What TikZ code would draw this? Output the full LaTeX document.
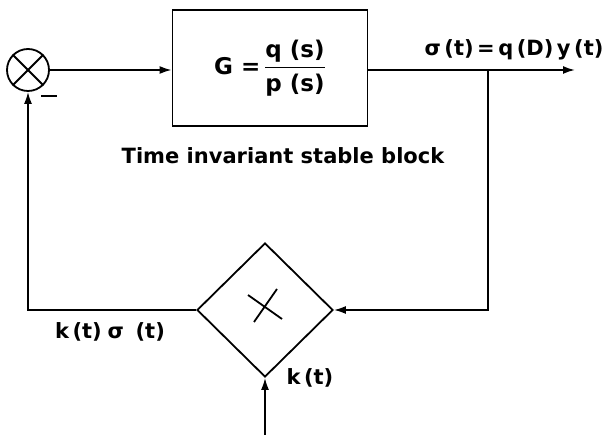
\documentclass[tikz,border=0pt]{standalone}
\usepackage{amsmath}
\usepackage{fontspec}
\setmainfont{DejaVu Sans}
\usetikzlibrary{arrows.meta,shapes.geometric}
\begin{document}
\begin{tikzpicture}[x=1pt,y=-1pt,line width=1.8pt,
  arr/.style={-{Latex[length=12pt,width=8pt]}},
  lbl/.style={font=\fontsize{21}{25}\selectfont\bfseries,inner sep=0pt},
  blockbox/.style={draw,minimum width=195pt,minimum height=116pt,inner sep=0pt,
    font=\fontsize{23}{28}\selectfont\bfseries},
  sumnode/.style={draw,circle,minimum size=42pt,inner sep=0pt},
  mulnode/.style={draw,diamond,minimum width=136pt,minimum height=134pt,inner sep=0pt}]
\useasboundingbox (0,0) rectangle (610,435);
% summing junction
\node[sumnode] (sum) at (28,70) {};
\draw (sum.north west) -- (sum.south east);
\draw (sum.north east) -- (sum.south west);
% forward block
\node[blockbox] (G) at (270,68) {G =\,$\dfrac{\text{q (s)}}{\text{p (s)}}$};
\node[lbl] (cap) at (283,156) {Time invariant stable block};
% multiplier
\node[mulnode] (mul) at (265,310) {};
\draw (mul.center) ++(-17,-15) coordinate (x1) -- ++(34,24) coordinate (x2);
\draw (mul.center) ++(12,-21) coordinate (x3) -- ++(-23,33) coordinate (x4);
% coordinates
\coordinate (out) at (575,70);
\coordinate (br) at (488,70);
\coordinate (brd) at (488,310);
\coordinate (lc) at (28,310);
\coordinate (in) at (265,435);
% connectors
\draw[arr] (sum.east) -- (sum.east -| G.west);
\draw[arr] (G.east |- out) -- (out);
\draw[arr] (br) -- (brd) -- (mul.east);
\draw[arr] (mul.west) -- (lc) -- (sum.south);
\draw[arr] (in) -- (mul.south);
% labels
\node[lbl,anchor=south] (sig) at (514,61) {σ\,(t)\,=\,q\,(D)\,y\,(t)};
\node[lbl] (ks) at (110,332) {k\,(t)\;σ\;\;(t)};
\node[lbl] (kt) at (310,378) {k\,(t)};
\node (minus) at (49,96) {\rule{16pt}{1.8pt}};
\end{tikzpicture}
\end{document}
